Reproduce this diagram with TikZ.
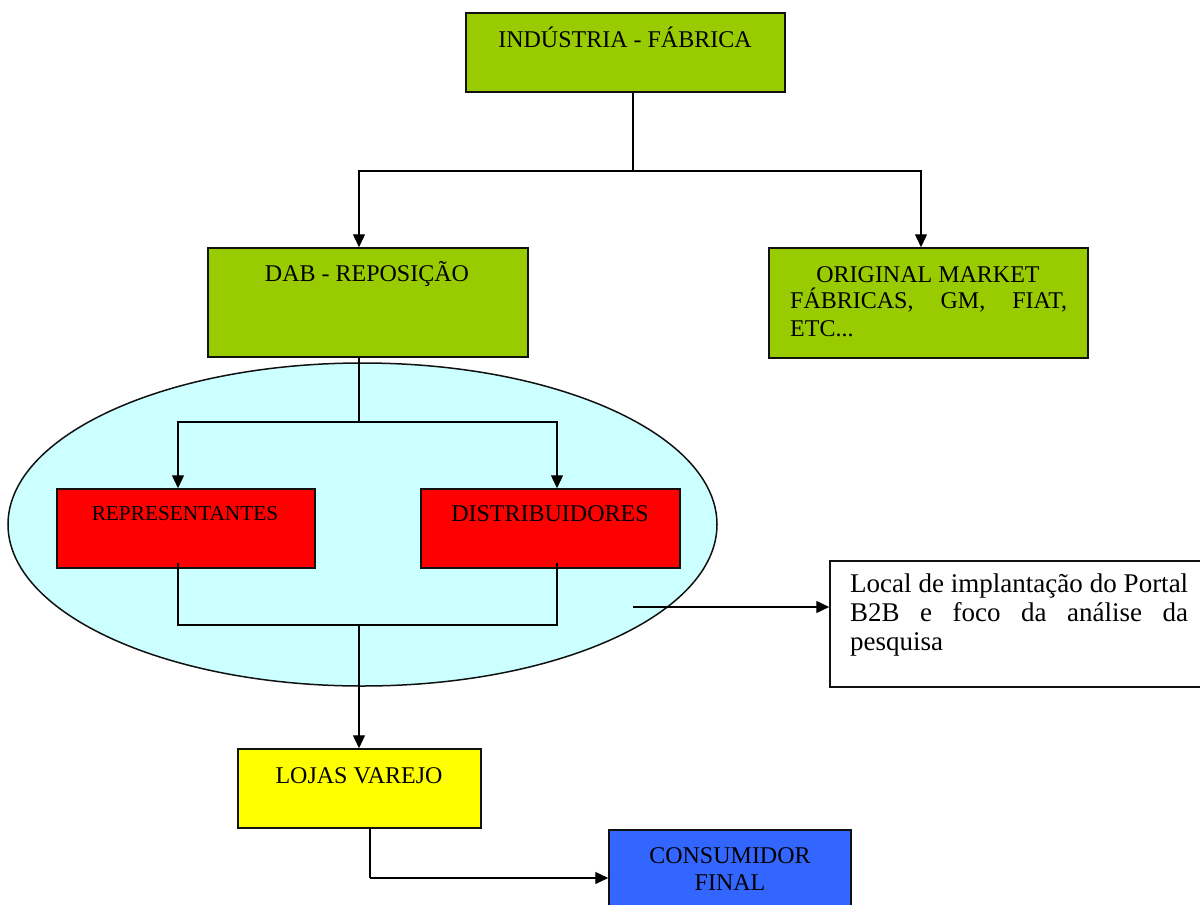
\documentclass[tikz,border=0pt]{standalone}
\usepackage{fontspec}
\setmainfont{Liberation Serif}
\usetikzlibrary{shapes.geometric,arrows.meta}
\definecolor{boxgreen}{HTML}{99CC00}
\definecolor{boxred}{HTML}{FF0000}
\definecolor{boxcyan}{HTML}{CCFFFF}
\definecolor{boxyellow}{HTML}{FFFF00}
\definecolor{boxblue}{HTML}{3366FF}
\definecolor{edge}{HTML}{111111}
\tikzset{
  box/.style={draw=edge, line width=1.5pt, inner sep=0pt, rectangle},
  txt/.style={inner sep=0pt, anchor=base, font=\fontsize{24}{27}\selectfont},
  txtl/.style={inner sep=0pt, anchor=base west, font=\fontsize{24}{27}\selectfont},
  txtbig/.style={inner sep=0pt, anchor=base west, font=\fontsize{27}{29}\selectfont},
  txtsmall/.style={inner sep=0pt, anchor=base, font=\fontsize{21.3}{24}\selectfont},
  conn/.style={draw=black, line width=1.4pt},
  arr/.style={conn, -{Triangle[length=13pt,width=12pt]}}
}
\begin{document}
\begin{tikzpicture}[x=1pt,y=-1pt]
\useasboundingbox (0,0) rectangle (1200,905);
% ellipse region
\node[ellipse, draw=edge, line width=1.5pt, fill=boxcyan, minimum width=709pt, minimum height=323pt, inner sep=0pt] (ell) at (362.5,524.5) {};
% boxes
\node[box, fill=boxgreen, minimum width=319pt, minimum height=79pt] (ind) at (625.5,52.5) {};
\node[box, fill=boxgreen, minimum width=320pt, minimum height=109pt] (dab) at (368,302.5) {};
\node[box, fill=boxgreen, minimum width=319pt, minimum height=110pt] (orig) at (928.5,303) {};
\node[box, fill=boxred, minimum width=258pt, minimum height=79pt] (rep) at (186,528.5) {};
\node[box, fill=boxred, minimum width=259pt, minimum height=79pt] (dist) at (550.5,528.5) {};
\node[box, fill=white, minimum width=380pt, minimum height=126pt] (loc) at (1020,624) {};
\node[box, fill=boxyellow, minimum width=243pt, minimum height=79pt] (loj) at (359.5,788.5) {};
\node[box, fill=boxblue, minimum width=242pt, minimum height=120pt] (cons) at (730,890) {};
% texts
\node[txt] (tind) at (625,47) {INDÚSTRIA - FÁBRICA};
\node[txt] (tdab) at (367,281) {DAB - REPOSIÇÃO};
\node[txt] (torig1) at (928,282) {ORIGINAL MARKET};
\node[txtl] (torig2) at (790,308) {\makebox[277pt][s]{FÁBRICAS, GM, FIAT,}};
\node[txtl] (torig3) at (790,336) {ETC...};
\node[txtsmall] (trep) at (185,520) {REPRESENTANTES};
\node[txt] (tdist) at (550,521) {DISTRIBUIDORES};
\node[txtbig] (tloc1) at (850,592) {\makebox[338pt][s]{Local de implantação do Portal}};
\node[txtbig] (tloc2) at (850,621) {\makebox[338pt][s]{B2B e foco da análise da}};
\node[txtbig] (tloc3) at (850,650) {pesquisa};
\node[txt] (tloj) at (359,783) {LOJAS VAREJO};
\node[txt] (tcons1) at (730,863) {CONSUMIDOR};
\node[txt] (tcons2) at (730,890) {FINAL};
% junction coordinates
\coordinate (ja) at (633,171);
\coordinate (jb) at (359,422);
\coordinate (jc) at (359,625);
\coordinate (jd) at (633,607);
\coordinate (je) at (370,878);
% connectors
\draw[conn] (ind.south -| ja) -- (ja);
\draw[arr] (ja) -| ([xshift=-9pt]dab.north);
\draw[arr] (ja) -| ([xshift=-7.5pt]orig.north);
\draw[conn] (dab.south -| jb) -- (jb);
\draw[arr] (jb) -| ([xshift=-8pt]rep.north);
\draw[arr] (jb) -| ([xshift=6.5pt]dist.north);
\draw[conn] ([xshift=-8pt,yshift=6pt]rep.south) |- (jc) -| ([xshift=6.5pt,yshift=6pt]dist.south);
\draw[arr] (jc) -- (loj.north -| jc);
\draw[arr] (jd) -- (jd -| loc.west);
\draw[conn] (loj.south -| je) -- (je);
\draw[arr] (je) -- (je -| cons.west);
\end{tikzpicture}
\end{document}
